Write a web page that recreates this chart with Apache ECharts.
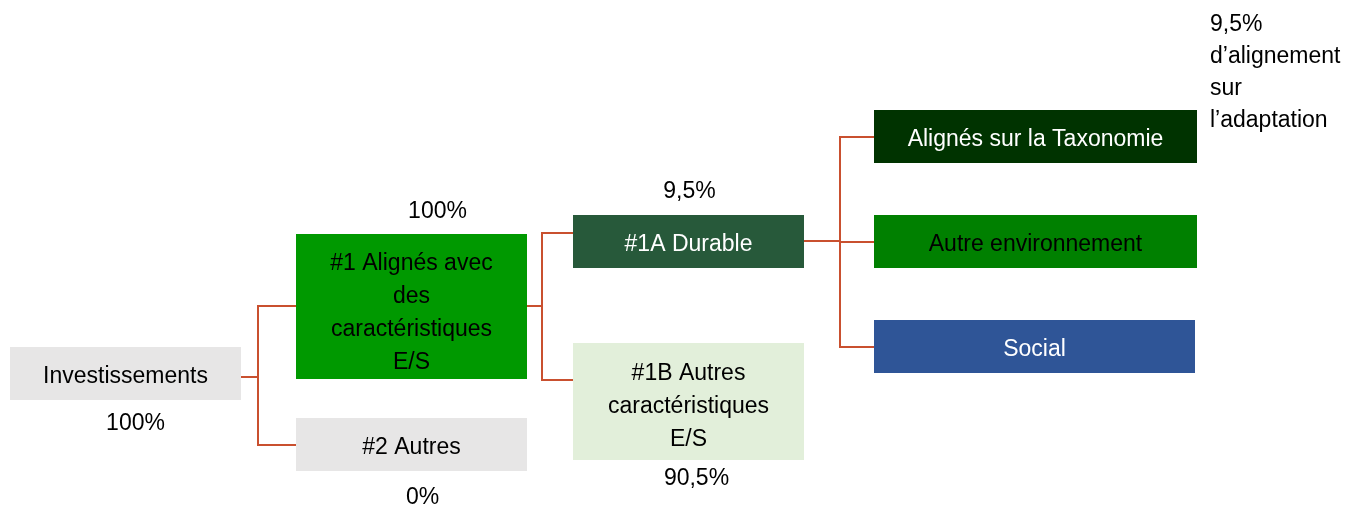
<!DOCTYPE html>
<html>
<head>
<meta charset="utf-8">
<script src="https://cdn.jsdelivr.net/npm/echarts@6/dist/echarts.min.js"></script>
<style>
  html, body { margin: 0; padding: 0; background: #fff; }
  #root { width: 1357px; height: 506px; }
</style>
</head>
<body>
<div id="root"></div>
<script>
// --- data ---
var nodeNames = [
    'Investissements',
    '#1 Alignés avec\ndes\ncaractéristiques\nE/S',
    '#2 Autres',
    '#1A Durable',
    '#1B Autres\ncaractéristiques\nE/S',
    'Alignés sur la Taxonomie',
    'Autre environnement',
    'Social'
];
var nodeShares = ['100%', '100%', '0%', '9,5%', '90,5%', '', '', ''];
var nodeParents = [-1, 0, 0, 1, 1, 3, 3, 3];
var noteText = '9,5%\nd\u2019alignement\nsur\nl\u2019adaptation';

// --- layout (diagram units = page pixels) ---
var boxLayout = [
    { x: 10, y: 347, w: 231, h: 53, port: 377, fork: 258, pct: 'below', gap: 24, dx: 10, ty: 3, fill: '#E7E6E6', ink: '#000' },
    { x: 296, y: 234, w: 231, h: 145, port: 306, fork: 542, pct: 'above', gap: 22, dx: 26, ty: 7, fill: '#009900', ink: '#000' },
    { x: 296, y: 418, w: 231, h: 53, port: 445, pct: 'below', gap: 27, dx: 11, ty: 3, fill: '#E7E6E6', ink: '#000' },
    { x: 573, y: 215, w: 231, h: 53, port: 233, exit: 241, fork: 840, pct: 'above', gap: 23, dx: 1, ty: 3, fill: '#27593A', ink: '#fff' },
    { x: 573, y: 343, w: 231, h: 117, port: 380, pct: 'below', gap: 19, dx: 8, ty: 5, fill: '#E2EFDA', ink: '#000' },
    { x: 874, y: 110, w: 323, h: 53, port: 137, ty: 3, fill: '#003300', ink: '#fff' },
    { x: 874, y: 215, w: 323, h: 53, port: 242, ty: 3, fill: '#008000', ink: '#000' },
    { x: 874, y: 320, w: 321, h: 53, port: 347, ty: 3, fill: '#2F5597', ink: '#fff' }
];
var noteAt = { x: 1210, y: 9 };

var FONT = '23px "Liberation Sans", Arial, sans-serif';
var LINE = '#C9502F';

function main() {
    var rdiv = document.getElementById('root');
    var chart = echarts.init(rdiv, null, { renderer: 'canvas' });

    var edges = [];
    nodeParents.forEach(function (p, i) {
        if (p >= 0) edges.push([p, i]);
    });

    var option = {
        animation: false,
        grid: { left: 0, right: 0, top: 0, bottom: 0 },
        xAxis: { type: 'value', min: 0, max: 1357, show: false },
        yAxis: { type: 'value', min: 0, max: 506, inverse: true, show: false },
        series: [
            {
                type: 'custom',
                name: 'liens',
                data: edges,
                renderItem: function (params, api) {
                    var e = edges[params.dataIndex];
                    var pb = boxLayout[e[0]], cb = boxLayout[e[1]];
                    var exitY = pb.exit !== undefined ? pb.exit : pb.port;
                    var pts = [
                        api.coord([pb.x + pb.w, exitY]),
                        api.coord([pb.fork, exitY]),
                        api.coord([pb.fork, cb.port]),
                        api.coord([cb.x, cb.port])
                    ];
                    return {
                        type: 'polyline',
                        shape: { points: pts },
                        style: { stroke: LINE, lineWidth: 2, fill: null }
                    };
                }
            },
            {
                type: 'custom',
                name: 'boites',
                data: nodeNames.map(function (n, i) { return [i]; }),
                renderItem: function (params, api) {
                    var i = params.dataIndex;
                    var b = boxLayout[i];
                    var p0 = api.coord([b.x, b.y]);
                    var p1 = api.coord([b.x + b.w, b.y + b.h]);
                    var cx = (p0[0] + p1[0]) / 2, cy = (p0[1] + p1[1]) / 2;
                    var children = [
                        {
                            type: 'rect',
                            shape: { x: p0[0], y: p0[1], width: p1[0] - p0[0], height: p1[1] - p0[1] },
                            style: { fill: b.fill }
                        },
                        {
                            type: 'text',
                            style: {
                                text: nodeNames[i], x: cx, y: cy + b.ty,
                                align: 'center', verticalAlign: 'middle',
                                font: FONT, lineHeight: 33, fill: b.ink
                            }
                        }
                    ];
                    if (nodeShares[i]) {
                        var ty = b.pct === 'above' ? p0[1] - b.gap : p1[1] + b.gap;
                        children.push({
                            type: 'text',
                            style: {
                                text: nodeShares[i], x: cx + b.dx, y: ty,
                                align: 'center', verticalAlign: 'middle',
                                font: FONT, fill: '#000'
                            }
                        });
                    }
                    if (i === 5) {
                        var np = api.coord([noteAt.x, noteAt.y]);
                        children.push({
                            type: 'text',
                            style: {
                                text: noteText, x: np[0], y: np[1],
                                align: 'left', verticalAlign: 'top',
                                font: FONT, lineHeight: 32, fill: '#000'
                            }
                        });
                    }
                    return { type: 'group', children: children };
                }
            }
        ]
    };
    chart.setOption(option);
}
main();
</script>
</body>
</html>
